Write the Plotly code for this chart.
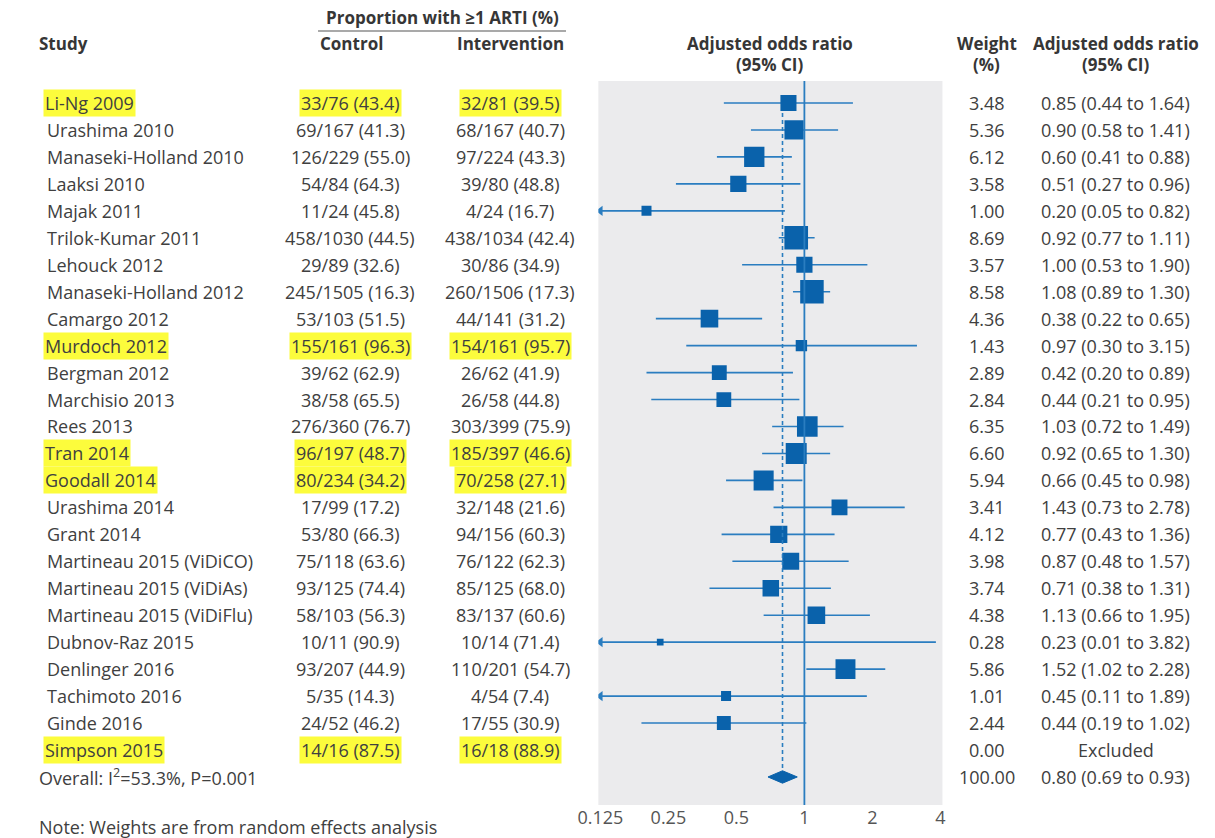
import plotly.graph_objects as go

studies = ["Li-Ng 2009", "Urashima 2010", "Manaseki-Holland 2010", "Laaksi 2010", "Majak 2011",
           "Trilok-Kumar 2011", "Lehouck 2012", "Manaseki-Holland 2012", "Camargo 2012", "Murdoch 2012",
           "Bergman 2012", "Marchisio 2013", "Rees 2013", "Tran 2014", "Goodall 2014",
           "Urashima 2014", "Grant 2014", "Martineau 2015 (ViDiCO)", "Martineau 2015 (ViDiAs)",
           "Martineau 2015 (ViDiFlu)", "Dubnov-Raz 2015", "Denlinger 2016", "Tachimoto 2016",
           "Ginde 2016", "Simpson 2015"]
control = ["33/76 (43.4)", "69/167 (41.3)", "126/229 (55.0)", "54/84 (64.3)", "11/24 (45.8)",
           "458/1030 (44.5)", "29/89 (32.6)", "245/1505 (16.3)", "53/103 (51.5)", "155/161 (96.3)",
           "39/62 (62.9)", "38/58 (65.5)", "276/360 (76.7)", "96/197 (48.7)", "80/234 (34.2)",
           "17/99 (17.2)", "53/80 (66.3)", "75/118 (63.6)", "93/125 (74.4)", "58/103 (56.3)",
           "10/11 (90.9)", "93/207 (44.9)", "5/35 (14.3)", "24/52 (46.2)", "14/16 (87.5)"]
intervention = ["32/81 (39.5)", "68/167 (40.7)", "97/224 (43.3)", "39/80 (48.8)", "4/24 (16.7)",
                "438/1034 (42.4)", "30/86 (34.9)", "260/1506 (17.3)", "44/141 (31.2)", "154/161 (95.7)",
                "26/62 (41.9)", "26/58 (44.8)", "303/399 (75.9)", "185/397 (46.6)", "70/258 (27.1)",
                "32/148 (21.6)", "94/156 (60.3)", "76/122 (62.3)", "85/125 (68.0)", "83/137 (60.6)",
                "10/14 (71.4)", "110/201 (54.7)", "4/54 (7.4)", "17/55 (30.9)", "16/18 (88.9)"]
weights = [3.48, 5.36, 6.12, 3.58, 1.00, 8.69, 3.57, 8.58, 4.36, 1.43, 2.89, 2.84, 6.35, 6.60, 5.94,
           3.41, 4.12, 3.98, 3.74, 4.38, 0.28, 5.86, 1.01, 2.44, 0.00]
odds = [0.85, 0.90, 0.60, 0.51, 0.20, 0.92, 1.00, 1.08, 0.38, 0.97, 0.42, 0.44, 1.03, 0.92, 0.66,
        1.43, 0.77, 0.87, 0.71, 1.13, 0.23, 1.52, 0.45, 0.44, None]
ci_low = [0.44, 0.58, 0.41, 0.27, 0.05, 0.77, 0.53, 0.89, 0.22, 0.30, 0.20, 0.21, 0.72, 0.65, 0.45,
          0.73, 0.43, 0.48, 0.38, 0.66, 0.01, 1.02, 0.11, 0.19, None]
ci_high = [1.64, 1.41, 0.88, 0.96, 0.82, 1.11, 1.90, 1.30, 0.65, 3.15, 0.89, 0.95, 1.49, 1.30, 0.98,
           2.78, 1.36, 1.57, 1.31, 1.95, 3.82, 2.28, 1.89, 1.02, None]
highlighted = ["Li-Ng 2009", "Murdoch 2012", "Tran 2014", "Goodall 2014", "Simpson 2015"]

overall_label = "Overall: I<sup>2</sup>=53.3%, P=0.001"
overall_weight = "100.00"
overall_or, overall_lo, overall_hi = 0.80, 0.69, 0.93

tick_vals = [0.125, 0.25, 0.5, 1, 2, 4]
tick_text = ["0.125", "0.25", "0.5", "1", "2", "4"]

W, H = 1215, 838
X_RANGE = [-0.912, 0.611]
x_min = 10 ** X_RANGE[0] * 1.02
x_max = 10 ** X_RANGE[1] * 0.99

BLUE_SQ = "#0a62ab"
BLUE_LN = "#2a7dc0"
TXT = "#404040"
HEAD = "#363636"
YEL = "#fcfc3c"
FONT = "Open Sans"
FS = 18
HFS = 17

rows = list(range(len(studies)))
overall_row = len(studies)

fig = go.Figure()

# CI lines
lx, ly = [], []
arrow_x, arrow_y = [], []
for i in rows:
    if odds[i] is None:
        continue
    lo = max(ci_low[i], x_min)
    hi = min(ci_high[i], x_max)
    lx += [lo, hi, None]
    ly += [i, i, None]
    if ci_low[i] < x_min:
        arrow_x.append(x_min)
        arrow_y.append(i)
fig.add_trace(go.Scatter(x=lx, y=ly, mode="lines", line=dict(color=BLUE_LN, width=1.6),
                         hoverinfo="skip", showlegend=False))
fig.add_trace(go.Scatter(x=arrow_x, y=arrow_y, mode="markers",
                         marker=dict(symbol="triangle-left", size=9, color=BLUE_LN, opacity=1),
                         hoverinfo="skip", showlegend=False))

# squares
sx = [odds[i] for i in rows if odds[i] is not None]
sy = [i for i in rows if odds[i] is not None]
ss = [3 + 7 * weights[i] ** 0.5 for i in rows if odds[i] is not None]
fig.add_trace(go.Scatter(x=sx, y=sy, mode="markers",
                         marker=dict(symbol="square", size=ss, color=BLUE_SQ, opacity=1,
                                     line=dict(width=0)),
                         showlegend=False))

# diamond for overall
dh = 0.23
fig.add_trace(go.Scatter(x=[overall_lo, overall_or, overall_hi, overall_or, overall_lo],
                         y=[overall_row, overall_row - dh, overall_row, overall_row + dh, overall_row],
                         mode="lines", fill="toself", fillcolor=BLUE_SQ,
                         line=dict(color=BLUE_SQ, width=1), showlegend=False, hoverinfo="skip"))

shapes = []
shapes.append(dict(type="line", xref="x", yref="y domain", x0=1, x1=1, y0=0, y1=1,
                   line=dict(color=BLUE_LN, width=1.8), layer="above"))
shapes.append(dict(type="line", xref="x", yref="y", x0=overall_or, x1=overall_or,
                   y0=0.37, y1=overall_row - dh, line=dict(color=BLUE_LN, width=1.6, dash="4px,3px"),
                   layer="above"))
shapes.append(dict(type="line", xref="paper", yref="paper", x0=303 / W, x1=556 / W,
                   y0=1 - 31 / H, y1=1 - 31 / H, line=dict(color="#555555", width=1.2)))

ann = []
def px(x):
    return x / W
def py(y):
    return 1 - y / H

def cell(text, x, row, anchor="center", hl=False):
    d = dict(text=text, x=px(x), y=row, xref="paper", yref="y", xanchor=anchor, yanchor="middle",
             showarrow=False, font=dict(family=FONT, size=FS, color=TXT))
    if hl:
        d["bgcolor"] = YEL
        d["borderpad"] = 1
    ann.append(d)

for i in rows:
    hl = studies[i] in highlighted
    cell(studies[i], 22 if hl else 24, i, anchor="left", hl=hl)
    cell(control[i], 336, i, hl=hl)
    cell(intervention[i], 499, i, hl=hl)
    cell(f"{weights[i]:.2f}", 985, i)
    if odds[i] is None:
        cell("Excluded", 1117, i)
    else:
        cell(f"{odds[i]:.2f} ({ci_low[i]:.2f} to {ci_high[i]:.2f})", 1117, i)

cell(overall_label, 16, overall_row, anchor="left")
cell(overall_weight, 985, overall_row)
cell(f"{overall_or:.2f} ({overall_lo:.2f} to {overall_hi:.2f})", 1117, overall_row)

def head(text, x, y, anchor="center"):
    ann.append(dict(text=f"<b>{text}</b>", x=px(x), y=py(y), xref="paper", yref="paper",
                    xanchor=anchor, yanchor="middle", showarrow=False,
                    font=dict(family=FONT, size=HFS, color=HEAD)))

head("Proportion with ≥1 ARTI (%)", 430, 17)
head("Study", 16, 44, anchor="left")
head("Control", 337, 44)
head("Intervention", 499, 44)
head("Adjusted odds ratio", 764, 44)
head("(95% CI)", 764, 64)
head("Weight", 985, 44)
head("(%)", 985, 64)
head("Adjusted odds ratio", 1117, 44)
head("(95% CI)", 1117, 64)

ann.append(dict(text="Note: Weights are from random effects analysis", x=px(16), y=py(827),
                xref="paper", yref="paper", xanchor="left", yanchor="middle", showarrow=False,
                font=dict(family=FONT, size=FS, color=TXT)))

fig.update_layout(
    width=W, height=H,
    margin=dict(l=0, r=0, t=0, b=0),
    paper_bgcolor="white",
    plot_bgcolor="#ebebed",
    shapes=shapes,
    annotations=ann,
    xaxis=dict(type="log", range=X_RANGE, domain=[589 / W, 940 / W],
               tickvals=tick_vals, ticktext=tick_text, showgrid=False, zeroline=False,
               showline=False, ticks="",
               tickfont=dict(family=FONT, size=FS, color="#555555"), fixedrange=True),
    yaxis=dict(range=[26.04, -0.816], domain=[1 - 805 / H, 1 - 81 / H], visible=False,
               fixedrange=True),
    showlegend=False,
)

fig.write_html("out.html", config={"displayModeBar": False},
               post_script="document.body.style.margin='0px';")
